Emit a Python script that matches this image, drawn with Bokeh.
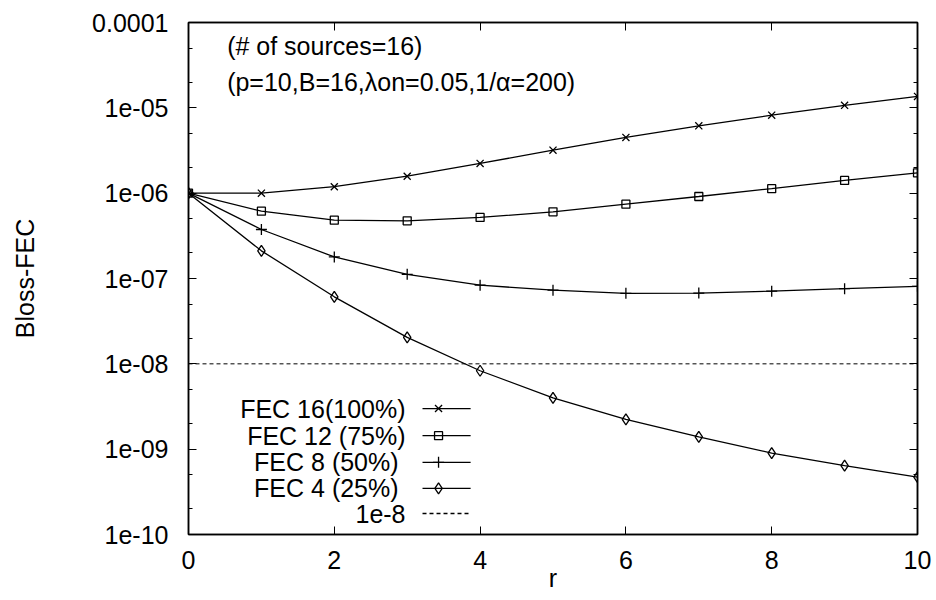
from bokeh.plotting import figure
from bokeh.models import (Range1d, FixedTicker, CustomJSTickFormatter, LinearAxis, LogAxis,
                          Label, Span, LinearScale)
from bokeh.core.properties import value
from bokeh.embed import file_html
from bokeh.resources import INLINE

# ---- data ----
r = [0, 1, 2, 3, 4, 5, 6, 7, 8, 9, 10]
fec16 = [1.0e-6, 1.0e-6, 1.19e-6, 1.58e-6, 2.23e-6, 3.19e-6, 4.5e-6, 6.15e-6, 8.2e-6, 1.07e-5, 1.36e-5]
fec12 = [1.0e-6, 6.15e-7, 4.83e-7, 4.74e-7, 5.19e-7, 6.04e-7, 7.43e-7, 9.14e-7, 1.13e-6, 1.41e-6, 1.73e-6]
fec8 = [1.0e-6, 3.75e-7, 1.79e-7, 1.12e-7, 8.35e-8, 7.3e-8, 6.7e-8, 6.75e-8, 7.1e-8, 7.6e-8, 8.1e-8]
fec4 = [1.0e-6, 2.11e-7, 6.1e-8, 2.04e-8, 8.3e-9, 4.0e-9, 2.24e-9, 1.39e-9, 9.0e-10, 6.4e-10, 4.7e-10]
threshold = 1e-8

series_names = ["FEC 16(100%)", "FEC 12 (75%)", "FEC  8 (50%)", "FEC  4 (25%)"]
series_markers = ["x", "square", "cross", "diamond"]
threshold_name = "1e-8"

x_ticks = [0, 2, 4, 6, 8, 10]
y_ticks = [1e-10, 1e-9, 1e-8, 1e-7, 1e-6, 1e-5, 1e-4]
y_tick_labels = ["1e-10", "1e-09", "1e-08", "1e-07", "1e-06", "1e-05", "0.0001"]
y_minor = [m * t for t in y_ticks[:-1] for m in (2, 5)]

title1 = "(# of sources=16)"
title2 = "(p=10,B=16,\u03bbon=0.05,1/\u03b1=200)"
x_title = "r"
y_title = "Bloss-FEC"

FONT = "Liberation Sans"
FS = "25px"
MSIZE = {"x": 10, "square": 8, "cross": 11, "diamond": 11}
LW = 1.3

p = figure(width=936, height=600, x_range=Range1d(0, 10), y_range=Range1d(1e-10, 1e-4),
           y_axis_type="log", output_backend="svg", toolbar_location=None,
           min_border_left=188, min_border_right=19, min_border_top=22, min_border_bottom=66)
p.extra_x_ranges = {"leg": Range1d(0, 1)}
p.extra_y_ranges = {"leg": Range1d(0, 1)}
p.extra_x_scales = {"leg": LinearScale()}
p.extra_y_scales = {"leg": LinearScale()}

p.xgrid.visible = False
p.ygrid.visible = False
p.outline_line_color = "black"
p.outline_line_width = 1.5
p.background_fill_color = "white"
p.border_fill_color = "white"

xticker = FixedTicker(ticks=x_ticks, minor_ticks=[])
yticker = FixedTicker(ticks=y_ticks, minor_ticks=y_minor)
yfmt = CustomJSTickFormatter(args={"labels": y_tick_labels},
                             code="return labels[Math.round(Math.log10(tick)) + 10];")


def style(ax):
    ax.axis_line_color = "black"
    ax.axis_line_width = 1.5
    ax.major_tick_in = 8
    ax.major_tick_out = 0
    ax.minor_tick_in = 4
    ax.minor_tick_out = 0
    ax.major_tick_line_color = "black"
    ax.minor_tick_line_color = "black"
    ax.major_label_text_font = FONT
    ax.major_label_text_font_size = FS
    ax.major_label_text_color = "black"
    ax.axis_label_text_font = FONT
    ax.axis_label_text_font_size = FS
    ax.axis_label_text_font_style = "normal"
    ax.axis_label_text_color = "black"


xa = p.xaxis[0]
style(xa)
xa.ticker = xticker
xa.major_label_standoff = 16
xa.axis_label = x_title
xa.axis_label_standoff = -8

ya = p.yaxis[0]
style(ya)
ya.ticker = yticker
ya.formatter = yfmt
ya.major_label_standoff = 20
ya.axis_label = y_title
ya.axis_label_standoff = 50

blank = CustomJSTickFormatter(code="return '';")
top = LinearAxis(ticker=xticker, formatter=blank)
style(top)
top.major_label_text_font_size = "0px"
top.major_label_standoff = 0
p.add_layout(top, "above")

right = LogAxis(ticker=yticker, formatter=blank)
style(right)
right.major_label_text_font_size = "0px"
right.major_label_standoff = 0
p.add_layout(right, "right")

# ---- data ----
series = [fec16, fec12, fec8, fec4]
for vals, mk in zip(series, series_markers):
    p.line(r, vals, line_color="black", line_width=LW)
    p.scatter(r, vals, marker=mk, size=MSIZE[mk], line_color="black", fill_color=None,
              line_width=LW)

p.add_layout(Span(location=threshold, dimension="width", line_color="black",
                  line_width=1, line_dash="4 3"))

# ---- annotations (frame-fraction coordinates) ----
for txt, yy in ((title1, 0.955), (title2, 0.883)):
    p.add_layout(Label(x=0.053, y=yy, x_range_name="leg", y_range_name="leg", text=txt,
                       text_font=FONT, text_font_size=FS, text_baseline="middle",
                       text_align="left", text_color="black"))

# ---- custom legend ----
leg_rows = [0.246, 0.193, 0.141, 0.090, 0.041]
leg_text_x = 0.2977
leg_line = (0.321, 0.387)
leg_mark_x = 0.343
names = series_names + [threshold_name]
for i, (nm, yy) in enumerate(zip(names, leg_rows)):
    p.add_layout(Label(x=leg_text_x, y=yy, x_range_name="leg", y_range_name="leg", text=nm,
                       text_font=FONT, text_font_size=FS, text_baseline="middle",
                       text_align="right", text_color="black"))
    dash = "4 3" if i == 4 else "solid"
    p.line([leg_line[0], leg_line[1]], [yy, yy], x_range_name="leg", y_range_name="leg",
           line_color="black", line_width=LW, line_dash=dash)
    if i < 4:
        mk = series_markers[i]
        p.scatter([leg_mark_x], [yy], x_range_name="leg", y_range_name="leg", marker=mk,
                  size=MSIZE[mk], line_color="black", fill_color=None, line_width=LW)

open("out.html", "w").write(file_html(p, INLINE))
